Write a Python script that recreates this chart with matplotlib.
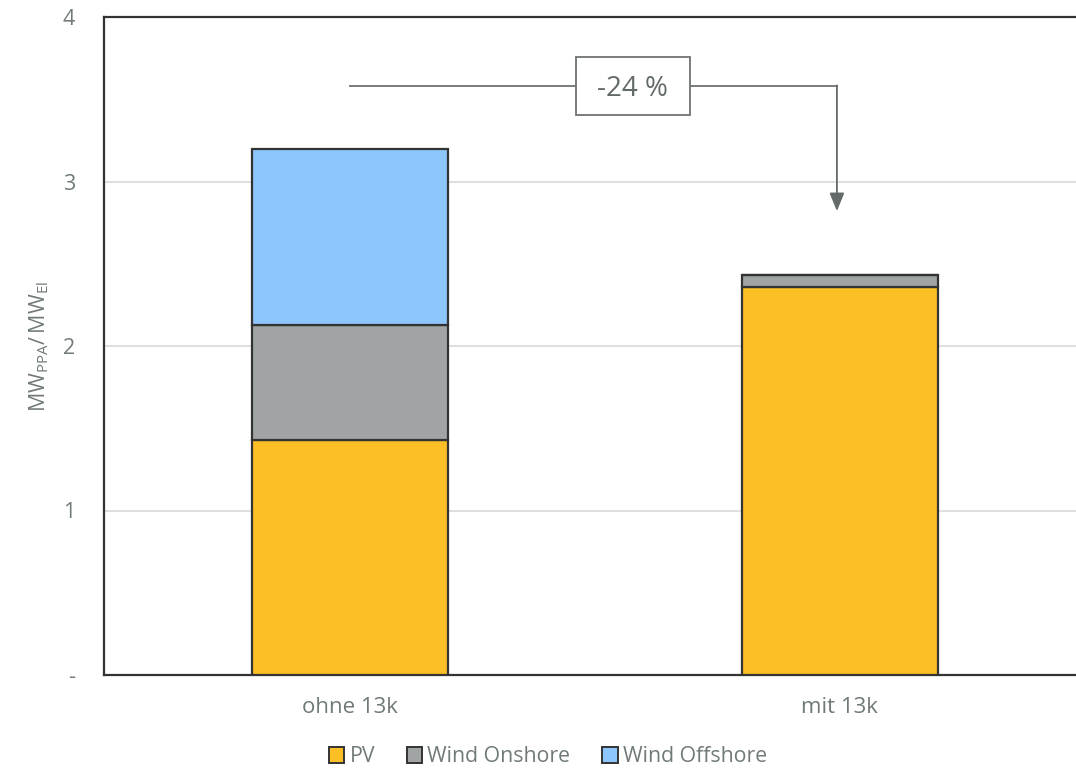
import matplotlib
matplotlib.use("Agg")
import matplotlib.pyplot as plt
from matplotlib.patches import Patch, Rectangle

categories = ["ohne 13k", "mit 13k"]
pv = [1.43, 2.36]
wind_onshore = [0.70, 0.07]
wind_offshore = [1.07, 0.00]
series_names = ["PV", "Wind Onshore", "Wind Offshore"]
colors = ["#FDBF26", "#A0A4A5", "#8CC6FD"]
change_label = "-24 %"
y_ticks = [0, 1, 2, 3, 4]
y_ticklabels = ["-", "1", "2", "3", "4"]

text_color = "#707a78"
edge_color = "#333333"
line_color = "#6d7372"

plt.rcParams["font.family"] = ["Open Sans", "DejaVu Sans"]

fig = plt.figure(figsize=(10.76, 7.68), dpi=100)
ax = fig.add_axes([104 / 1076, 93 / 768, 1 - 104 / 1076, 658 / 768])

x = list(range(len(categories)))
width = 0.4
bottom = [0.0] * len(categories)
for vals, name, col in zip([pv, wind_onshore, wind_offshore], series_names, colors):
    ax.bar(x, vals, width, bottom=bottom, color=col, edgecolor=edge_color,
           linewidth=1.6, label=name, zorder=3)
    bottom = [b + v for b, v in zip(bottom, vals)]

ax.set_xlim(-0.502, 1.482)
ax.set_ylim(0, 4)
ax.set_yticks(y_ticks)
ax.set_yticklabels(y_ticklabels)
ax.set_xticks(x)
ax.set_xticklabels(categories)
ax.tick_params(axis="both", length=0, colors=text_color)
ax.tick_params(axis="y", pad=21, labelsize=15.5)
ax.tick_params(axis="x", pad=16, labelsize=16)
ax.grid(axis="y", color="#d9d9d9", linewidth=1.2, zorder=0)

for side in ["left", "bottom", "top"]:
    ax.spines[side].set_color(edge_color)
    ax.spines[side].set_linewidth(1.6)
ax.spines["right"].set_visible(False)

ax.set_ylabel(r"$\mathregular{MW_{PPA}/\,MW_{El}}$", color=text_color, fontsize=15.5, labelpad=8)

# change annotation: connector from first bar to second bar with a labelled box
y_line = 3.58
x_end = x[1] - 0.006
ax.plot([x[0], x_end], [y_line, y_line], color=line_color, lw=1.3, zorder=4)
ax.annotate("", xy=(x_end, 2.82), xytext=(x_end, y_line + 0.004),
            arrowprops=dict(arrowstyle="-|>,head_width=0.45,head_length=1.1",
                            color="#636a69", lw=1.3, shrinkA=0, shrinkB=0), zorder=4)
box_left, box_right, box_low, box_high = 0.461, 0.694, 3.404, 3.757
ax.add_patch(Rectangle((box_left, box_low), box_right - box_left, box_high - box_low,
                       facecolor="white", edgecolor=line_color, lw=1.3, zorder=5))
ax.text((box_left + box_right) / 2, (box_low + box_high) / 2 - 0.02, change_label,
        ha="center", va="center", fontsize=20, color="#626b69", zorder=6)

handles = [Patch(facecolor=c, edgecolor=edge_color, linewidth=1.4, label=n)
           for c, n in zip(colors, series_names)]
fig.legend(handles=handles, loc="center", bbox_to_anchor=(548 / 1076, 1 - 757 / 768),
           ncol=3, frameon=False, fontsize=15.3, labelcolor=text_color,
           handlelength=0.72, handleheight=0.72, handletextpad=0.25, columnspacing=1.5)

fig.savefig("out.png", dpi=100)
